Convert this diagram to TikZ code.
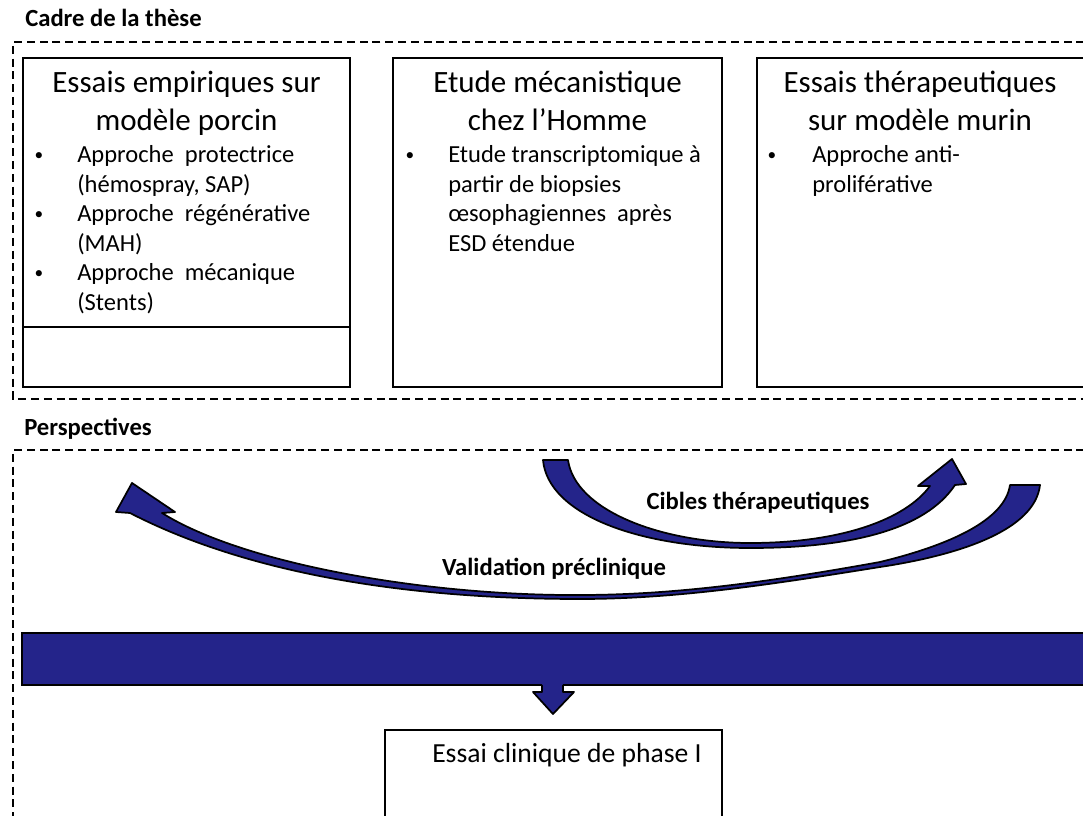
\documentclass[tikz,border=0pt]{standalone}
\usepackage{fontspec}
\setmainfont{Carlito}
\definecolor{navy}{RGB}{36,36,138}
\begin{document}
\begin{tikzpicture}[x=0.75pt,y=-0.75pt,
  frame/.style={draw=black,line width=1.5pt,dash pattern=on 6pt off 3.6pt},
  panel/.style={draw=black,line width=1.7pt,inner sep=0pt},
  bluefill/.style={fill=navy,draw=black,line width=1.3pt,line join=round},
  ttl/.style={font=\fontsize{23.25}{28}\selectfont,anchor=base,inner sep=0pt},
  itm/.style={font=\fontsize{18.4}{22}\selectfont,anchor=base west,inner sep=0pt},
  dot/.style={font=\fontsize{13}{16}\selectfont,anchor=base,inner sep=0pt},
  lbl/.style={font=\bfseries\fontsize{18.5}{22}\selectfont,anchor=base,inner sep=0pt},
]
\useasboundingbox (0,0) rectangle (1083,816);
\clip (0,0) rectangle (1083,816);
\fill[white] (0,0) rectangle (1083,816);

% ---- Cadre de la these ----
\node[lbl,anchor=base west] (cadre) at (25,27) {Cadre de la thèse};
\draw[frame] (1110,42) -- (13,42) -- (13,399) -- (1110,399);

\node[panel,minimum width=245.25pt,minimum height=246.75pt] (b1) at (186.5,222.5) {};
\node[panel,minimum width=246.75pt,minimum height=246.75pt] (b2) at (557.5,222.5) {};
\node[panel,minimum width=253.5pt,minimum height=246.75pt] (b3) at (926,222.5) {};
\coordinate (sep) at (0,327);
\draw[line width=0.9pt] (b1.west |- sep) -- (b1.east |- sep);

% box 1
\node[ttl] (t1a) at (186.5,93) {Essais empiriques sur};
\node[ttl] (t1b) at (186.5,131) {modèle porcin};
\node[dot] (d1a) at (39,161) {\textbullet};
\node[itm] (i1a) at (77,163) {Approche \ protectrice};
\node[itm] (i1b) at (77,193) {(hémospray, SAP)};
\node[dot] (d1b) at (39,220) {\textbullet};
\node[itm] (i1c) at (77,222) {Approche \ régénérative};
\node[itm] (i1d) at (77,252) {(MAH)};
\node[dot] (d1c) at (39,279) {\textbullet};
\node[itm] (i1e) at (77,281) {Approche \ mécanique};
\node[itm] (i1f) at (77,311) {(Stents)};

% box 2
\node[ttl] (t2a) at (557.5,93) {Etude mécanistique};
\node[ttl] (t2b) at (557.5,131) {chez l’Homme};
\node[dot] (d2a) at (410,161) {\textbullet};
\node[itm] (i2a) at (448,163) {Etude transcriptomique à};
\node[itm] (i2b) at (448,193) {partir de biopsies};
\node[itm] (i2c) at (448,222) {œsophagiennes \ après};
\node[itm] (i2d) at (448,252) {ESD étendue};

% box 3
\node[ttl] (t3a) at (920,93) {Essais thérapeutiques};
\node[ttl] (t3b) at (920,131) {sur modèle murin};
\node[dot] (d3a) at (772,161) {\textbullet};
\node[itm] (i3a) at (812,163) {Approche anti-};
\node[itm] (i3b) at (812,193) {proliférative};

% ---- Perspectives ----
\node[lbl,anchor=base west] (persp) at (24,436) {Perspectives};
\draw[frame] (1110,450) -- (13,450) -- (13,840);

% Cibles therapeutiques arrow
\path[bluefill] (543,460) -- (568,460)
  .. controls (575,510) and (660,543) .. (750,543)
  .. controls (840,543) and (905,520) .. (930,486)
  -- (918,486) -- (952,459) -- (966,484) -- (955,485)
  .. controls (925,530) and (850,548) .. (750,548)
  .. controls (640,548) and (548,515) .. (543,460) -- cycle;
\node[lbl] (cibles) at (758,510) {Cibles thérapeutiques};

% Validation preclinique arrow
\path[bluefill] (1010,485)
  .. controls (1005,520) and (950,545) .. (880,562)
  .. controls (780,580) and (680,595) .. (580,595)
  .. controls (430,596) and (245,565) .. (162,513)
  -- (175,512) -- (132,483) -- (116,512) -- (130,513)
  .. controls (260,580) and (430,599) .. (580,599)
  .. controls (680,599) and (780,583) .. (880,567)
  .. controls (960,555) and (1035,530) .. (1040,485) -- cycle;
\node[lbl] (valid) at (554,576) {Validation préclinique};

% bar and down arrow
\node[panel,fill=navy,line width=1.3pt,minimum width=808.5pt,minimum height=39pt] (bar) at (561,659) {};
\fill[navy] (542,683) rectangle (563,692);
\fill[navy] (533,692) -- (553,714) -- (574,692) -- cycle;
\draw[line width=1.3pt,line join=round] (542,685) -- (542,692) -- (533,692) -- (553,714) -- (574,692) -- (563,692) -- (563,685);

% bottom box
\node[panel,minimum width=252.75pt,minimum height=82.5pt] (b4) at (553.5,785) {};
\node[anchor=base west,inner sep=0pt,font=\fontsize{20.7}{25}\selectfont] (essai) at (432,763) {Essai clinique de phase I};
\end{tikzpicture}
\end{document}
